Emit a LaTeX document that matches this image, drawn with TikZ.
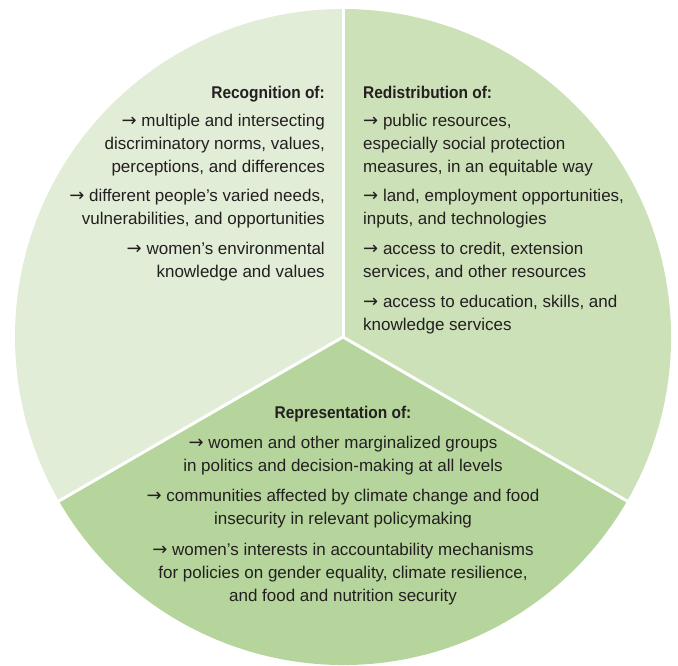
\documentclass[tikz,border=0pt]{standalone}
\usepackage{fontspec}
\setmainfont{Liberation Sans}
\newfontfamily\headfont[FakeStretch=0.91]{Liberation Sans Bold}
\newfontfamily\arrowfont{DejaVu Sans}
\newcommand\arr{{\arrowfont\fontsize{18}{20}\selectfont →}}
\definecolor{secA}{HTML}{E2EDD8}
\definecolor{secB}{HTML}{CDE1B9}
\definecolor{secC}{HTML}{B5D59C}
\definecolor{ink}{HTML}{231F20}
\begin{document}
\begin{tikzpicture}[x=1pt,y=1pt,
  body/.style={inner sep=0pt,text=ink,font=\fontsize{17}{22}\selectfont},
  head/.style={inner sep=0pt,text=ink,font=\headfont\fontsize{17}{22}\selectfont},
  gap/.style={white,line width=3pt}]
\useasboundingbox (0,0) rectangle (678,666);
\coordinate (C) at (343,329);
\def\R{328}
\fill[secA] (C) -- ++(90:\R) arc[start angle=90,end angle=210,radius=\R] -- cycle;
\fill[secB] (C) -- ++(-30:\R) arc[start angle=-30,end angle=90,radius=\R] -- cycle;
\fill[secC] (C) -- ++(210:\R) arc[start angle=210,end angle=330,radius=\R] -- cycle;
\draw[gap] (C) -- ++(90:\R+2);
\draw[gap] (C) -- ++(210:\R+2);
\draw[gap] (C) -- ++(330:\R+2);
% Recognition
\node[head,anchor=base east] (l0) at (325,{666-99}) {Recognition of:};
\node[body,anchor=base east] (l1) at (325,{666-127}) {\arr\ multiple and intersecting};
\node[body,anchor=base east] (l2) at (325,{666-150}) {discriminatory norms, values,};
\node[body,anchor=base east] (l3) at (325,{666-173}) {perceptions, and differences};
\node[body,anchor=base east] (l4) at (325,{666-202}) {\arr\ different people’s varied needs,};
\node[body,anchor=base east] (l5) at (325,{666-225}) {vulnerabilities, and opportunities};
\node[body,anchor=base east] (l6) at (325,{666-255}) {\arr\ women’s environmental};
\node[body,anchor=base east] (l7) at (325,{666-278}) {knowledge and values};
% Redistribution
\node[head,anchor=base west] (r0) at (363,{666-99}) {Redistribution of:};
\node[body,anchor=base west] (r1) at (363,{666-127}) {\arr\ public resources,};
\node[body,anchor=base west] (r2) at (363,{666-150}) {especially social protection};
\node[body,anchor=base west] (r3) at (363,{666-173}) {measures, in an equitable way};
\node[body,anchor=base west] (r4) at (363,{666-202}) {\arr\ land, employment opportunities,};
\node[body,anchor=base west] (r5) at (363,{666-225}) {inputs, and technologies};
\node[body,anchor=base west] (r6) at (363,{666-255}) {\arr\ access to credit, extension};
\node[body,anchor=base west] (r7) at (363,{666-278}) {services, and other resources};
\node[body,anchor=base west] (r8) at (363,{666-308}) {\arr\ access to education, skills, and};
\node[body,anchor=base west] (r9) at (363,{666-331}) {knowledge services};
% Representation
\node[head,anchor=base] (b0) at (343,{666-419}) {Representation of:};
\node[body,anchor=base] (b1) at (343,{666-449}) {\arr\ women and other marginalized groups};
\node[body,anchor=base] (b2) at (343,{666-472}) {in politics and decision-making at all levels};
\node[body,anchor=base] (b3) at (343,{666-502}) {\arr\ communities affected by climate change and food};
\node[body,anchor=base] (b4) at (343,{666-525}) {insecurity in relevant policymaking};
\node[body,anchor=base] (b5) at (343,{666-556}) {\arr\ women’s interests in accountability mechanisms};
\node[body,anchor=base] (b6) at (343,{666-579}) {for policies on gender equality, climate resilience,};
\node[body,anchor=base] (b7) at (343,{666-602}) {and food and nutrition security};
\end{tikzpicture}
\end{document}
